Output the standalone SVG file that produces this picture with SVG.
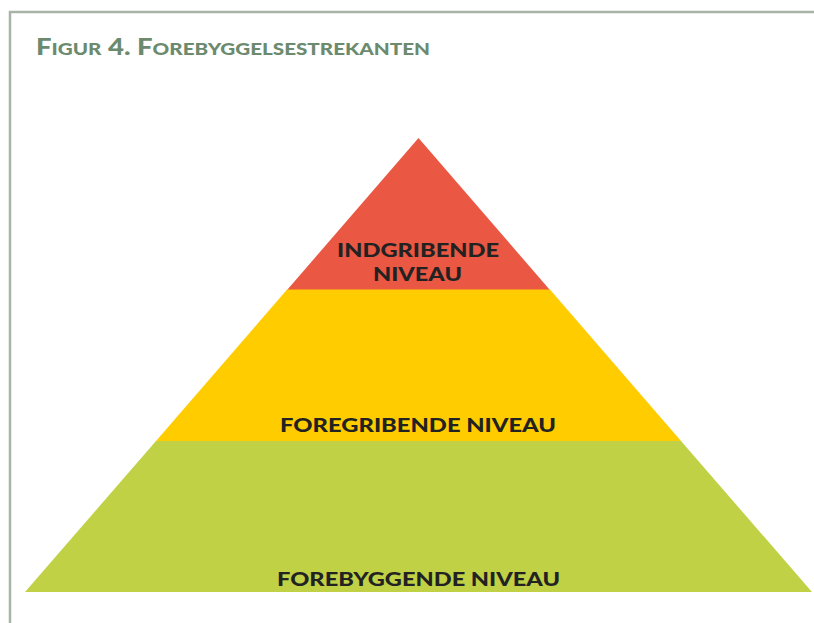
<svg xmlns="http://www.w3.org/2000/svg" width="814" height="623" viewBox="0 0 814 623">
<style>
.lbl{font-family:Lato,"Liberation Sans",sans-serif;font-weight:900;font-size:19.5px;fill:#222222;}
.title{font-family:Lato,"Liberation Sans",sans-serif;font-weight:900;fill:#6b8a6e;}
</style>
<rect width="814" height="623" fill="#ffffff"/>
<g id="frame" fill="none" stroke="#a9b4a9" stroke-width="2.5">
<path d="M10,623 V12 H814"/>
</g>
<text class="title" x="36" y="55" textLength="394" lengthAdjust="spacingAndGlyphs"><tspan font-size="22">F</tspan><tspan font-size="16.5">IGUR</tspan><tspan font-size="22"> 4. F</tspan><tspan font-size="16.5">OREBYGGELSESTREKANTEN</tspan></text>
<g id="level-forebyggende">
<polygon points="156,441 681,441 812,592 25,592" fill="#c0d145"/>
<text class="lbl" x="277" y="586" textLength="283" lengthAdjust="spacingAndGlyphs">FOREBYGGENDE NIVEAU</text>
</g>
<g id="level-foregribende">
<polygon points="287.5,289 549.5,289 681,441 156,441" fill="#ffcc00"/>
<text class="lbl" x="280" y="432" textLength="276" lengthAdjust="spacingAndGlyphs">FOREGRIBENDE NIVEAU</text>
</g>
<g id="level-indgribende">
<polygon points="418.5,138 549.5,289.5 287.5,289.5" fill="#ea5743"/>
<text class="lbl" x="337" y="257" textLength="162" lengthAdjust="spacingAndGlyphs">INDGRIBENDE</text>
<text class="lbl" x="373" y="281" textLength="89" lengthAdjust="spacingAndGlyphs">NIVEAU</text>
</g>
</svg>
